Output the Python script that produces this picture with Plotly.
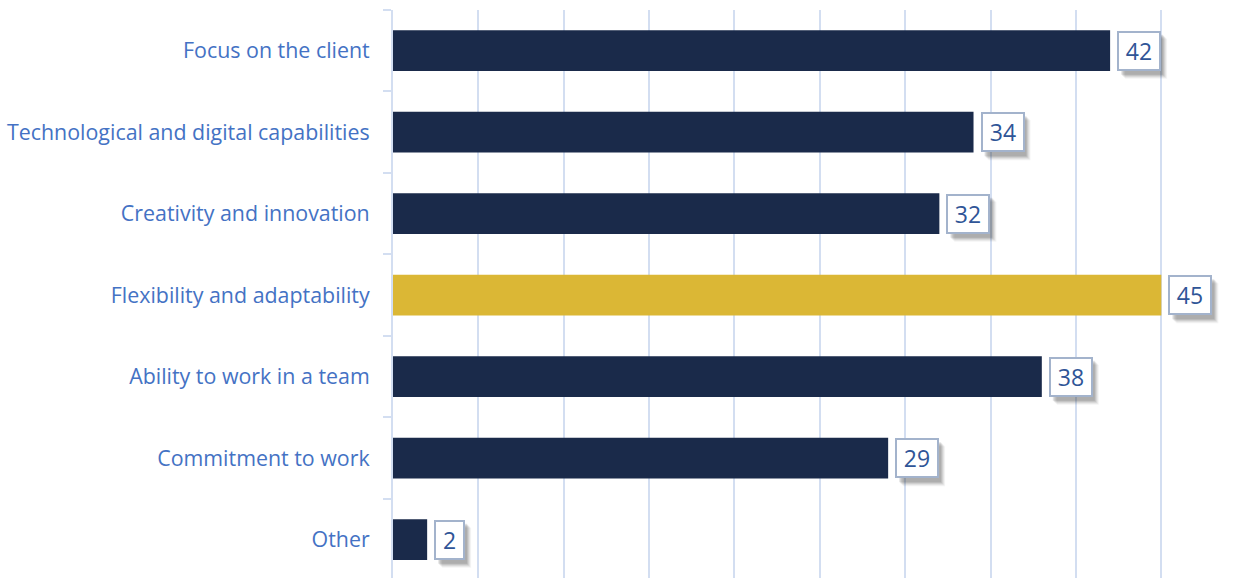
import plotly.graph_objects as go

categories = [
    "Focus on the client",
    "Technological and digital capabilities",
    "Creativity and innovation",
    "Flexibility and adaptability",
    "Ability to work in a team",
    "Commitment to work",
    "Other",
]
values = [42, 34, 32, 45, 38, 29, 2]
highlight = "Flexibility and adaptability"

NAVY = "#1a2a4a"
GOLD = "#dbb735"
TEXT_BLUE = "#4472c4"
GRID = "#d3def1"

bar_colors = [GOLD if c == highlight else NAVY for c in categories]

fig = go.Figure(
    go.Bar(
        x=values,
        y=categories,
        orientation="h",
        marker=dict(color=bar_colors, line=dict(width=0)),
        hoverinfo="skip",
    )
)

# value callouts: bordered white box with a soft drop shadow
GAP = 7          # px between bar end and callout
PAD, BORDER = 4, 2
BOX_H = 40
for i, (cat, val) in enumerate(zip(categories, values)):
    inner_w = 13 * len(str(val)) + 6
    box_w = inner_w + 2 * PAD + 2 * BORDER
    for off, alpha in [(8, 0.05), (7, 0.07), (6, 0.09), (5, 0.11), (4, 0.12)]:
        fig.add_shape(
            type="rect", layer="above",
            xref="x", yref="y",
            xsizemode="pixel", ysizemode="pixel",
            xanchor=val, yanchor=i,
            x0=GAP + off, x1=GAP + box_w + off - 2,
            y0=-BOX_H / 2 - off, y1=BOX_H / 2 - off,
            fillcolor=f"rgba(40,40,40,{alpha})",
            line=dict(width=0),
        )
    fig.add_annotation(
        x=val, y=cat, xref="x", yref="y",
        text=str(val), showarrow=False,
        xanchor="left", yanchor="middle",
        xshift=GAP,
        width=inner_w, height=BOX_H - 2 * PAD - 2 * BORDER,
        align="center", valign="middle",
        font=dict(family="Open Sans", size=23, color="#2f5597"),
        bgcolor="white",
        borderpad=PAD, borderwidth=BORDER, bordercolor="#a3b3cc",
    )

fig.update_layout(
    width=1245,
    height=578,
    margin=dict(l=393, r=0, t=10, b=0),
    paper_bgcolor="white",
    plot_bgcolor="white",
    bargap=0.5,
    showlegend=False,
    font=dict(family="Open Sans", color=TEXT_BLUE),
    xaxis=dict(
        range=[0, 49.9],
        dtick=5,
        showticklabels=False,
        showgrid=True,
        gridcolor=GRID,
        gridwidth=2,
        zeroline=False,
        showline=False,
        ticks="",
    ),
    yaxis=dict(
        categoryorder="array",
        categoryarray=categories,
        autorange=False,
        range=[6.47, -0.5],
        showline=True,
        linecolor=GRID,
        linewidth=2,
        ticks="outside",
        tickson="boundaries",
        ticklen=8,
        tickwidth=2,
        tickcolor=GRID,
        ticklabelstandoff=17,
        tickfont=dict(family="Open Sans", size=21.4, color=TEXT_BLUE),
        showgrid=False,
    ),
)

fig.write_html("out.html")
